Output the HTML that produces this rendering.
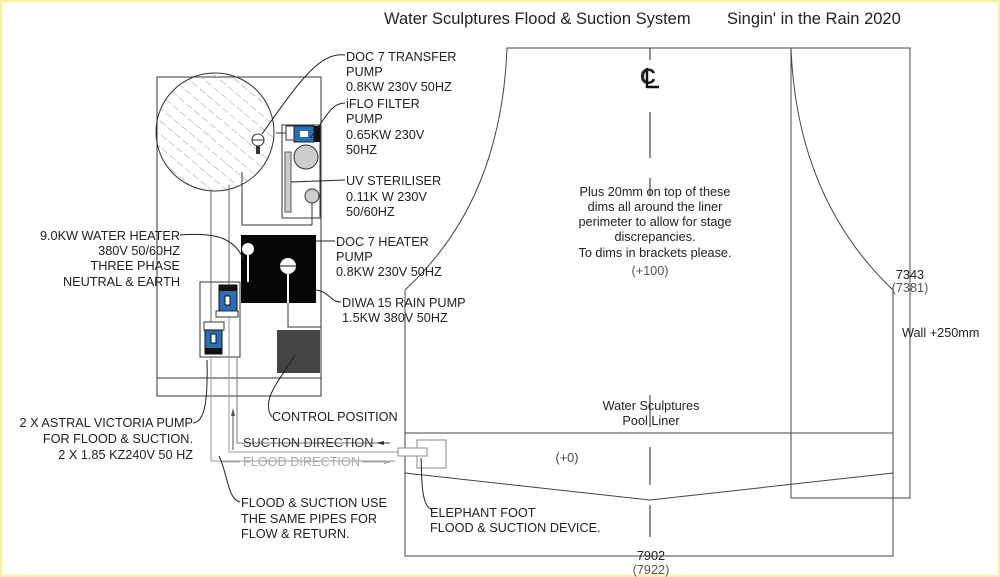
<!DOCTYPE html>
<html><head><style>
html,body{margin:0;padding:0;background:#fff;}
svg{display:block;}
text{font-family:"Liberation Sans",Arial,sans-serif;font-size:12.7px;fill:#222;}
</style></head><body>
<svg width="1000" height="577" viewBox="0 0 1000 577" xmlns="http://www.w3.org/2000/svg">
<defs>
<pattern id="h" width="10" height="10" patternUnits="userSpaceOnUse" patternTransform="rotate(-50)">
<line x1="0" y1="0" x2="0" y2="10" stroke="#999" stroke-width="1" stroke-dasharray="7 3"/>
</pattern>
</defs>
<rect x="0" y="0" width="1000" height="577" fill="#fff"/>
<rect x="1" y="1" width="998" height="575" fill="none" stroke="#f6f3a0" stroke-width="2.5"/>

<text x="384" y="24" style="font-size:16.5px">Water Sculptures Flood &amp; Suction System</text>
<text x="727" y="24" style="font-size:16.5px">Singin' in the Rain 2020</text>

<!-- left plant box -->
<rect x="157" y="77" width="164" height="319" fill="none" stroke="#333" stroke-width="1"/>
<line x1="157" y1="378" x2="321" y2="378" stroke="#333"/>
<circle cx="215" cy="132" r="59" fill="url(#h)" stroke="#333"/>
<circle cx="258" cy="140" r="6" fill="#fff" stroke="#333"/>
<line x1="252" y1="140" x2="264" y2="140" stroke="#333"/>
<rect x="256" y="146" width="4" height="8" fill="#333"/>
<rect x="282" y="125" width="38" height="93" fill="none" stroke="#333"/>
<rect x="286" y="126" width="8" height="14" fill="#fff" stroke="#333"/>
<rect x="294" y="126" width="20" height="16" fill="#2a6fb5" stroke="#222"/>
<rect x="314" y="126" width="6" height="16" fill="#111"/>
<rect x="300" y="131" width="8" height="6" fill="#fff"/>
<line x1="276" y1="133" x2="286" y2="133" stroke="#333"/>
<circle cx="306" cy="157" r="12" fill="#ccc" stroke="#333"/>
<rect x="285" y="152" width="6" height="60" fill="#ccc" stroke="#555"/>
<circle cx="312" cy="196" r="7" fill="#ccc" stroke="#333"/>
<polyline points="242,172 242,225 312,225 312,203" fill="none" stroke="#333"/>
<rect x="241" y="235" width="75" height="68" fill="#050505"/>
<circle cx="248" cy="249" r="6" fill="#fff"/>
<line x1="248" y1="255" x2="248" y2="282" stroke="#fff" stroke-width="2"/>
<circle cx="288" cy="266" r="8" fill="#fff"/>
<line x1="280" y1="266" x2="296" y2="266" stroke="#111"/>
<line x1="288" y1="274" x2="288" y2="303" stroke="#fff" stroke-width="2"/>
<polyline points="288,303 288,327 321,327" fill="none" stroke="#333"/>
<rect x="200" y="282" width="40" height="75" fill="none" stroke="#333"/>
<rect x="219" y="285" width="18" height="26" fill="#2a6fb5" stroke="#111"/>
<rect x="219" y="285" width="18" height="6" fill="#111"/>
<rect x="225" y="296" width="5" height="9" fill="#fff" stroke="#111"/>
<rect x="216" y="311" width="22" height="6" fill="#fff" stroke="#333"/>
<rect x="204" y="322" width="20" height="8" fill="#fff" stroke="#333"/>
<rect x="205" y="330" width="17" height="24" fill="#2a6fb5" stroke="#111"/>
<rect x="205" y="348" width="17" height="6" fill="#111"/>
<rect x="211" y="334" width="5" height="9" fill="#fff" stroke="#111"/>
<rect x="277" y="330" width="43" height="43" fill="#444"/>
<line x1="211" y1="190" x2="211" y2="322" stroke="#666"/>
<line x1="229" y1="185" x2="229" y2="285" stroke="#666"/>
<polyline points="211,357 211,461 395,461" fill="none" stroke="#999"/>
<polyline points="229,317 229,452 398,452" fill="none" stroke="#999"/>
<polyline points="237,357 237,443 390,443" fill="none" stroke="#777"/>
<line x1="233" y1="450" x2="233" y2="414" stroke="#555"/>
<polygon points="233,408 231,416 235,416" fill="#555"/>

<!-- pool -->
<path d="M507,48 C503,150 470,230 405,290 L405,556 L893,556 L893,290 C830,230 795,150 791,48 Z" fill="none" stroke="#444"/>
<line x1="507" y1="48" x2="791" y2="48" stroke="#444"/>
<rect x="791" y="48" width="119" height="450" fill="none" stroke="#444"/>
<line x1="405" y1="433" x2="893" y2="433" stroke="#444"/>
<polyline points="405,473 650,500 893,473" fill="none" stroke="#444"/>
<g stroke="#222">
<line x1="650" y1="48" x2="650" y2="60"/>
<line x1="650" y1="112" x2="650" y2="158"/>
<line x1="650" y1="178" x2="650" y2="195"/>
<line x1="650" y1="395" x2="650" y2="427"/>
<line x1="650" y1="447" x2="650" y2="485"/>
<line x1="650" y1="505" x2="650" y2="537"/>
</g>
<text x="640" y="84" style="font-size:22px;font-weight:bold">C</text>
<line x1="647" y1="68" x2="647" y2="88" stroke="#111" stroke-width="2.5"/>
<line x1="647" y1="87" x2="659" y2="87" stroke="#111" stroke-width="2.5"/>

<g text-anchor="middle">
<text x="655" y="196">Plus 20mm on top of these</text>
<text x="655" y="211">dims all around the liner</text>
<text x="655" y="226">perimeter to allow for stage</text>
<text x="655" y="241">discrepancies.</text>
<text x="655" y="257">To dims in brackets please.</text>
<text x="650" y="275" style="fill:#555">(+100)</text>
<text x="651" y="410">Water Sculptures</text>
<text x="651" y="425">Pool Liner</text>
<text x="567" y="462" style="fill:#444">(+0)</text>
<text x="651" y="560">7902</text>
<text x="651" y="574" style="fill:#555">(7922)</text>
<text x="910" y="279">7343</text>
<text x="910" y="292" style="fill:#555">(7381)</text>
</g>
<text x="902" y="337">Wall +250mm</text>

<rect x="417" y="440" width="29" height="28" fill="none" stroke="#888"/>
<rect x="398" y="448" width="29" height="8" fill="#fff" stroke="#888"/>
<path d="M421,458 C422,470 420,505 431,509" fill="none" stroke="#222"/>
<text x="430" y="517">ELEPHANT FOOT</text>
<text x="430" y="532">FLOOD &amp; SUCTION DEVICE.</text>

<text x="346" y="61">DOC 7 TRANSFER</text>
<text x="346" y="76">PUMP</text>
<text x="346" y="91">0.8KW 230V 50HZ</text>
<path d="M345,55 C320,52 300,80 262,134" fill="none" stroke="#222"/>
<text x="346" y="108">iFLO FILTER</text>
<text x="346" y="123">PUMP</text>
<text x="346" y="139">0.65KW 230V</text>
<text x="346" y="154">50HZ</text>
<path d="M345,103 C330,103 325,120 310,138" fill="none" stroke="#222"/>
<text x="346" y="185">UV STERILISER</text>
<text x="346" y="201">0.11K W 230V</text>
<text x="346" y="216">50/60HZ</text>
<line x1="291" y1="182" x2="345" y2="180" stroke="#222"/>
<text x="336" y="246">DOC 7 HEATER</text>
<text x="336" y="261">PUMP</text>
<text x="336" y="276">0.8KW 230V 50HZ</text>
<line x1="316" y1="241" x2="335" y2="241" stroke="#222"/>
<text x="342" y="307">DIWA 15 RAIN PUMP</text>
<text x="342" y="322">1.5KW 380V 50HZ</text>
<path d="M316,290 C330,292 330,302 341,302" fill="none" stroke="#222"/>
<text x="272" y="421">CONTROL POSITION</text>
<path d="M295,355 C280,380 260,400 272,417" fill="none" stroke="#222"/>
<text x="243" y="447" style="fill:#333">SUCTION DIRECTION</text>
<line x1="378" y1="443" x2="390" y2="443" stroke="#333"/>
<polygon points="376,443 384,441 384,445" fill="#333"/>
<text x="243" y="466" style="fill:#aaa">FLOOD DIRECTION</text>
<line x1="362" y1="462" x2="390" y2="462" stroke="#aaa"/>
<polygon points="392,462 384,460 384,464" fill="#aaa"/>
<line x1="222" y1="462" x2="240" y2="462" stroke="#aaa"/>
<text x="241" y="507">FLOOD &amp; SUCTION USE</text>
<text x="241" y="523">THE SAME PIPES FOR</text>
<text x="241" y="538">FLOW &amp; RETURN.</text>
<path d="M219,456 C228,475 228,500 240,502" fill="none" stroke="#222"/>

<g text-anchor="end">
<text x="180" y="240">9.0KW WATER HEATER</text>
<text x="180" y="255">380V 50/60HZ</text>
<text x="180" y="270">THREE PHASE</text>
<text x="180" y="286">NEUTRAL &amp; EARTH</text>
<text x="193" y="427">2 X ASTRAL VICTORIA PUMP</text>
<text x="193" y="443">FOR FLOOD &amp; SUCTION.</text>
<text x="193" y="459">2 X 1.85 KZ240V 50 HZ</text>
</g>
<path d="M180,235 C220,232 235,240 244,260" fill="none" stroke="#222"/>
<path d="M193,423 C205,422 208,400 207,360" fill="none" stroke="#222"/>
</svg>
</body></html>
